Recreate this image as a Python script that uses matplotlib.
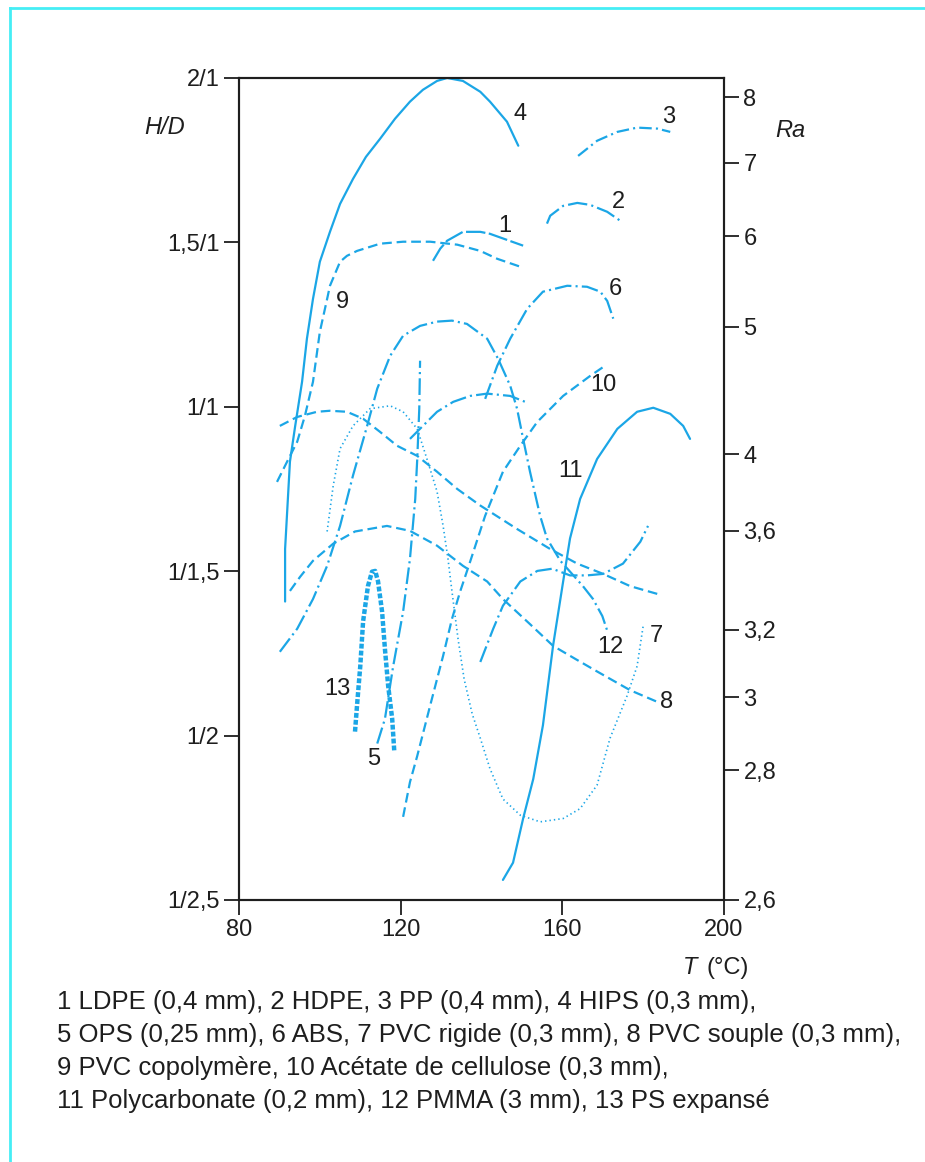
import numpy as np
import matplotlib
matplotlib.use("Agg")
import matplotlib.pyplot as plt
from matplotlib.lines import Line2D
from matplotlib.ticker import NullLocator

plt.rcParams['font.family'] = ['Liberation Sans', 'DejaVu Sans']
plt.rcParams['lines.scale_dashes'] = False

BLUE = '#1ba6e6'
INK = '#1e1e1e'

# ---- data: temperature (°C) and H/D ratio ----
t1 = [128.0, 129.8, 131.5, 135.4, 139.7, 142.1, 150.3]
hd1 = [1.444, 1.481, 1.505, 1.532, 1.532, 1.526, 1.490]

t2 = [156.2, 157.0, 160.2, 163.7, 166.9, 171.1, 174.3]
hd2 = [1.557, 1.581, 1.611, 1.620, 1.614, 1.593, 1.566]

t3 = [163.9, 168.6, 173.6, 178.5, 183.5, 186.7]
hd3 = [1.763, 1.809, 1.836, 1.849, 1.846, 1.836]

t4 = [91.4, 91.4, 92.6, 93.9, 95.6, 96.8, 98.3, 100.0, 102.5, 105.0, 108.2,
      111.4, 114.9, 118.6, 122.3, 125.5, 129.0, 131.5, 135.4, 139.7, 142.1,
      146.3, 149.1]
hd4 = [0.628, 0.698, 0.857, 0.945, 1.076, 1.207, 1.328, 1.441, 1.532, 1.617,
       1.693, 1.760, 1.815, 1.876, 1.928, 1.964, 1.991, 2.0, 1.991, 1.958,
       1.928, 1.867, 1.794]

t5 = [114.2, 116.1, 118.1, 120.6, 122.3, 123.6, 124.1, 124.6, 124.8]
hd5 = [0.494, 0.513, 0.558, 0.616, 0.684, 0.781, 0.863, 0.994, 1.140]

t5b = [122.3, 125.5, 129.0, 133.0, 137.2, 141.4, 147.1, 150.8]
hd5b = [0.911, 0.945, 0.985, 1.015, 1.033, 1.040, 1.033, 1.015]

t6 = [140.9, 143.9, 147.1, 151.3, 155.2, 161.2, 166.1, 169.4, 171.1, 172.6]
hd6 = [1.024, 1.125, 1.207, 1.298, 1.350, 1.368, 1.365, 1.350, 1.322, 1.268]

t6b = [139.7, 142.9, 145.3, 149.6, 153.8, 157.5, 161.9, 166.1, 170.1, 175.0,
       179.3, 181.2]
hd6b = [0.563, 0.597, 0.623, 0.653, 0.667, 0.670, 0.661, 0.661, 0.663, 0.677,
        0.709, 0.734]

t7 = [101.8, 103.3, 105.0, 108.2, 112.4, 117.4, 120.6, 124.1, 126.5, 129.0,
      130.5, 131.7, 132.7, 134.2, 135.7, 137.7, 139.7, 142.1, 145.3, 149.6,
      154.5, 160.2, 164.4, 168.6, 171.8, 176.0, 178.5, 180.0]
hd7 = [0.725, 0.806, 0.887, 0.945, 0.994, 1.003, 0.985, 0.937, 0.863, 0.795,
       0.734, 0.684, 0.640, 0.586, 0.547, 0.517, 0.498, 0.476, 0.456, 0.446,
       0.442, 0.444, 0.450, 0.465, 0.498, 0.532, 0.559, 0.600]

t8 = [92.6, 95.1, 98.3, 103.3, 108.7, 116.6, 122.3, 129.0, 135.4, 141.4,
      145.3, 152.0, 157.7, 163.2, 168.6, 176.8, 183.5]
hd8 = [0.641, 0.659, 0.681, 0.706, 0.725, 0.734, 0.726, 0.703, 0.674, 0.653,
       0.631, 0.602, 0.579, 0.566, 0.554, 0.537, 0.527]

t8b = [90.1, 94.4, 99.3, 102.5, 106.7, 110.7, 114.9, 119.1, 124.1, 129.0,
       134.0, 139.7, 148.8, 157.0, 163.7, 170.1, 176.8, 183.7]
hd8b = [0.945, 0.970, 0.985, 0.988, 0.985, 0.965, 0.929, 0.894, 0.870, 0.835,
        0.800, 0.769, 0.729, 0.698, 0.677, 0.663, 0.647, 0.637]

t9 = [89.4, 91.9, 94.4, 96.3, 98.3, 100.0, 101.8, 102.5, 105.0, 106.7, 109.2,
      114.9, 120.6, 127.3, 134.0, 139.7, 143.9, 150.3]
hd9 = [0.814, 0.857, 0.904, 0.973, 1.076, 1.228, 1.328, 1.368, 1.441, 1.459,
       1.474, 1.496, 1.502, 1.502, 1.493, 1.474, 1.450, 1.423]

t10 = [120.6, 122.3, 124.1, 127.3, 130.5, 132.7, 134.7, 137.2, 140.9, 145.3,
       149.6, 153.8, 160.2, 166.9, 170.6]
hd10 = [0.445, 0.467, 0.485, 0.524, 0.569, 0.608, 0.640, 0.680, 0.751, 0.835,
        0.894, 0.956, 1.033, 1.094, 1.125]

t11 = [145.3, 147.8, 150.3, 152.8, 155.2, 157.7, 160.2, 161.9, 164.4, 168.6,
       173.6, 178.5, 182.5, 186.7, 189.9, 191.6]
hd11 = [0.410, 0.419, 0.444, 0.469, 0.508, 0.579, 0.653, 0.714, 0.781, 0.863,
        0.937, 0.985, 0.997, 0.979, 0.945, 0.911]

t12 = [90.1, 94.4, 98.3, 101.8, 105.0, 108.2, 111.7, 114.2, 117.4, 120.6,
       124.8, 129.0, 132.7, 136.4, 141.4, 144.1, 147.1, 148.8, 150.3, 152.0,
       154.5, 156.2, 159.5, 162.4, 165.1, 167.6, 169.9, 171.1]
hd12 = [0.573, 0.597, 0.631, 0.674, 0.734, 0.827, 0.945, 1.055, 1.155, 1.216,
        1.246, 1.259, 1.262, 1.252, 1.207, 1.146, 1.064, 0.994, 0.911, 0.835,
        0.751, 0.714, 0.681, 0.663, 0.647, 0.631, 0.611, 0.595]

t13 = [108.7, 109.2, 110.0, 110.7, 111.9, 112.9, 113.7, 114.4, 115.4, 116.1,
       116.9, 117.9, 118.4]
hd13 = [0.503, 0.524, 0.559, 0.605, 0.647, 0.666, 0.667, 0.653, 0.616, 0.576,
        0.541, 0.513, 0.489]

# curve number labels (position: T, H/D)
label_text = ['1', '2', '3', '4', '5', '6', '7', '8', '9', '10', '11', '12', '13']
label_t = [145.8, 173.8, 186.2, 149.6, 113.2, 173.1, 183.2, 185.9, 105.5,
           170.1, 161.9, 171.8, 104.3]
label_hd = [1.550, 1.623, 1.882, 1.891, 0.483, 1.359, 0.589, 0.527, 1.319,
            1.067, 0.837, 0.578, 0.538]

hd_ticks = [0.4, 0.5, 1 / 1.5, 1.0, 1.5, 2.0]
hd_ticklabels = ['1/2,5', '1/2', '1/1,5', '1/1', '1,5/1', '2/1']
t_ticks = [80, 120, 160, 200]

ra_labels = ['8', '7', '6', '5', '4', '3,6', '3,2', '3', '2,8', '2,6']
ra_at_hd = [1.942, 1.742, 1.519, 1.243, 0.874, 0.726, 0.596, 0.531, 0.475, 0.4]

legend_lines = [
    "1 LDPE (0,4 mm), 2 HDPE, 3 PP (0,4 mm), 4 HIPS (0,3 mm),",
    "5 OPS (0,25 mm), 6 ABS, 7 PVC rigide (0,3 mm), 8 PVC souple (0,3 mm),",
    "9 PVC copolymère, 10 Acétate de cellulose (0,3 mm),",
    "11 Polycarbonate (0,2 mm), 12 PMMA (3 mm), 13 PS expansé",
]


def hd_fwd(h):
    h = np.asarray(h, dtype=float)
    with np.errstate(divide='ignore', invalid='ignore'):
        return np.where(h >= 1, h - 1, 1 - 1 / h)


def hd_inv(s):
    s = np.asarray(s, dtype=float)
    with np.errstate(divide='ignore', invalid='ignore'):
        return np.where(s >= 0, s + 1, 1 / (1 - s))


DASH = (7, 3.5)
LONGDASH = (14, 2.5)
DASHDOT = (12, 3, 1.5, 3)
DASHDOT_S = (9, 3, 1.5, 3)
DOT = (1, 2.2)

curves = [
    (t1, hd1, LONGDASH, 1.6),
    (t2, hd2, (14, 3, 1.5, 3), 1.6),
    (t3, hd3, DASHDOT_S, 1.6),
    (t4, hd4, None, 1.6),
    (t5, hd5, DASHDOT, 1.6),
    (t5b, hd5b, DASHDOT, 1.6),
    (t6, hd6, DASHDOT, 1.6),
    (t6b, hd6b, DASHDOT, 1.6),
    (t7, hd7, DOT, 1.2),
    (t8, hd8, DASH, 1.6),
    (t8b, hd8b, DASH, 1.6),
    (t9, hd9, DASH, 1.6),
    (t10, hd10, DASH, 1.6),
    (t11, hd11, None, 1.6),
    (t12, hd12, DASHDOT, 1.6),
    (t13, hd13, (3.5, 1.5), 3.2),
]

FS = 17

fig = plt.figure(figsize=(9.25, 11.62), dpi=100)
ax = fig.add_axes([0.2584, 0.2255, 0.5243, 0.7074])

for t, hd, dashes, lw in curves:
    line, = ax.plot(t, hd, color=BLUE, lw=lw, solid_capstyle='round',
                    solid_joinstyle='round', dash_capstyle='butt')
    if dashes is not None:
        line.set_dashes(dashes)

for txt, lt, lh in zip(label_text, label_t, label_hd):
    ax.text(lt, lh, txt, fontsize=FS, color=INK, ha='center', va='center')

ax.set_yscale('function', functions=(hd_fwd, hd_inv))
ax.set_xlim(80, 200)
ax.set_ylim(0.4, 2.0)
ax.set_xticks(t_ticks)
ax.set_xticklabels([str(v) for v in t_ticks])
ax.set_yticks(hd_ticks)
ax.set_yticklabels(hd_ticklabels)
ax.yaxis.set_minor_locator(NullLocator())
ax.xaxis.set_minor_locator(NullLocator())

ax2 = ax.twinx()
ax2.set_yscale('function', functions=(hd_fwd, hd_inv))
ax2.set_ylim(0.4, 2.0)
ax2.set_yticks(ra_at_hd)
ax2.set_yticklabels(ra_labels)
ax2.yaxis.set_minor_locator(NullLocator())

for a in (ax, ax2):
    a.tick_params(direction='out', length=11, width=1.3, labelsize=FS,
                  colors=INK, pad=3)
    for sp in a.spines.values():
        sp.set_linewidth(1.5)
        sp.set_color(INK)

fig.text(0.178, 0.890, 'H/D', style='italic', fontsize=FS, color=INK,
         ha='center', va='center')
fig.text(0.854, 0.888, 'Ra', style='italic', fontsize=FS, color=INK,
         ha='center', va='center')
fig.text(0.810, 0.167, '(°C)', fontsize=FS, color=INK, ha='right', va='center')
fig.text(0.754, 0.167, 'T', style='italic', fontsize=FS, color=INK,
         ha='right', va='center')

for i, txt in enumerate(legend_lines):
    fig.text(0.0616, 0.1377 - i * 0.0284, txt, fontsize=18.5, color=INK,
             ha='left', va='center')

# cyan frame at the top and left edges
CYAN = '#45eef5'
fig.add_artist(Line2D([10 / 925, 1.0], [1 - 8 / 1162, 1 - 8 / 1162],
                      transform=fig.transFigure, color=CYAN, lw=2))
fig.add_artist(Line2D([10 / 925, 10 / 925], [1 - 8 / 1162, 0.0],
                      transform=fig.transFigure, color=CYAN, lw=2))

fig.savefig('out.png', dpi=100)
